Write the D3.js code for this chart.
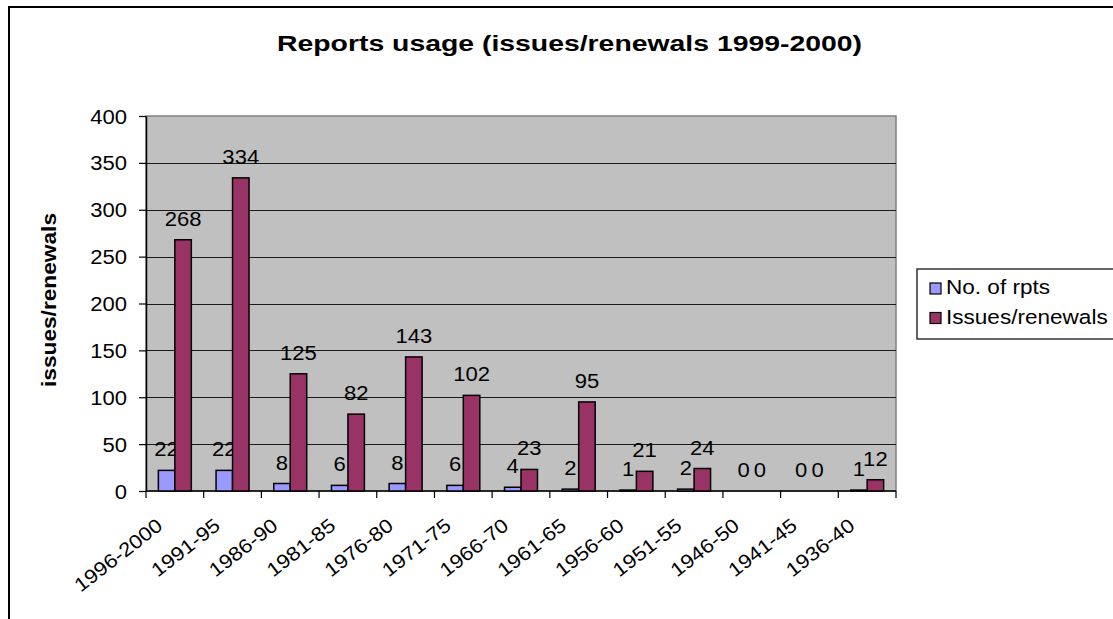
<!DOCTYPE html>
<html>
<head>
<meta charset="utf-8">
<script src="https://cdn.jsdelivr.net/npm/d3@7"></script>
<style>
  html, body { margin: 0; padding: 0; background: #fff; }
  svg { display: block; font-family: "Liberation Sans", Arial, sans-serif; }
</style>
</head>
<body>
<svg id="chart" width="1113" height="619"></svg>
<script>
// Publication periods (x axis)
const categories = ["1996-2000", "1991-95", "1986-90", "1981-85", "1976-80", "1971-75",
                    "1966-70", "1961-65", "1956-60", "1951-55", "1946-50", "1941-45", "1936-40"];
// Number of reports per period
const reportCounts = [22, 22, 8, 6, 8, 6, 4, 2, 1, 2, 0, 0, 1];
// Issues/renewals per period
const issueCounts = [268, 334, 125, 82, 143, 102, 23, 95, 21, 24, 0, 0, 12];
const seriesNames = ["No. of rpts", "Issues/renewals"];
const seriesColors = ["#9999FF", "#993366"];
const yTicks = [0, 50, 100, 150, 200, 250, 300, 350, 400];
const chartTitle = "Reports usage (issues/renewals 1999-2000)";
const yTitle = "issues/renewals";

const series = [reportCounts, issueCounts].map((vals, i) => ({
  name: seriesNames[i], color: seriesColors[i],
  values: vals.map((v, j) => ({ cat: categories[j], value: v }))
}));

const svg = d3.select("#chart");
const plot = { left: 146, right: 896, top: 116, bottom: 491 };

// Glyphs in this chart run slightly wider than the stock face; stretch along the baseline.
function widen(sel, k) {
  sel.each(function () {
    const w = this.getComputedTextLength();
    if (w > 0) {
      this.setAttribute("textLength", (w * k).toFixed(2));
      this.setAttribute("lengthAdjust", "spacingAndGlyphs");
    }
  });
}

// Outer chart frame
svg.append("rect")
  .attr("x", 9).attr("y", 7).attr("width", 1300).attr("height", 800)
  .attr("fill", "none").attr("stroke", "#000").attr("stroke-width", 2);

const x = d3.scaleBand().domain(categories).range([plot.left, plot.right]).paddingInner(0).paddingOuter(0);
const y = d3.scaleLinear().domain([0, 400]).range([plot.bottom, plot.top]);
const barW = x.bandwidth() / 3.5;
const inner = d3.scaleBand().domain(seriesNames)
  .range([(x.bandwidth() - 2 * barW) / 2, (x.bandwidth() + 2 * barW) / 2]);

// Plot background
svg.append("rect")
  .attr("x", plot.left).attr("y", plot.top)
  .attr("width", plot.right - plot.left).attr("height", plot.bottom - plot.top)
  .attr("fill", "#C0C0C0").attr("stroke", "#808080").attr("stroke-width", 1.5);

// Gridlines
svg.append("g")
  .selectAll("line").data(yTicks.filter(t => t > 0 && t < 400)).join("line")
  .attr("x1", plot.left).attr("x2", plot.right)
  .attr("y1", d => Math.round(y(d)) + 0.5).attr("y2", d => Math.round(y(d)) + 0.5)
  .attr("stroke", "#1a1a1a").attr("stroke-width", 1);

// Y axis
const yAxis = svg.append("g")
  .attr("transform", `translate(${plot.left},0)`)
  .call(d3.axisLeft(y).tickValues(yTicks).tickSize(7).tickPadding(12).tickSizeOuter(0));
yAxis.select(".domain").attr("stroke", "#000").attr("stroke-width", 1.5);
yAxis.selectAll(".tick line").attr("stroke", "#000").attr("stroke-width", 1.2);
yAxis.selectAll(".tick text")
  .attr("font-size", "19.5px").attr("fill", "#000")
  .attr("font-family", "Liberation Sans, Arial, sans-serif")
  .attr("dy", "0.36em")
  .call(widen, 1.13);

// X axis: ticks at category boundaries
const xAxisG = svg.append("g");
xAxisG.append("line")
  .attr("x1", plot.left).attr("x2", plot.right)
  .attr("y1", plot.bottom).attr("y2", plot.bottom)
  .attr("stroke", "#000").attr("stroke-width", 1.5);
const boundaries = categories.map(c => x(c)).concat([x(categories[categories.length - 1]) + x.bandwidth()]);
xAxisG.selectAll("line.tick").data(boundaries).join("line")
  .attr("class", "tick")
  .attr("x1", d => d).attr("x2", d => d)
  .attr("y1", plot.bottom).attr("y2", plot.bottom + 7)
  .attr("stroke", "#000").attr("stroke-width", 1.2);
xAxisG.selectAll("text").data(categories).join("text")
  .attr("transform", d => `translate(${x(d) + x.bandwidth() / 2 - 11},${plot.bottom + 37}) rotate(-38)`)
  .attr("text-anchor", "end")
  .attr("font-size", "19.5px").attr("fill", "#000")
  .text(d => d)
  .call(widen, 1.13);

// Bars
const groups = svg.append("g").selectAll("g").data(series).join("g")
  .attr("fill", d => d.color);
groups.selectAll("rect").data(d => d.values.map(v => ({ ...v, name: d.name }))).join("rect")
  .attr("x", d => x(d.cat) + inner(d.name))
  .attr("y", d => y(d.value))
  .attr("width", inner.bandwidth())
  .attr("height", d => y(0) - y(d.value))
  .attr("stroke", "#000").attr("stroke-width", 1.5);

// Value labels above bars
groups.selectAll("text").data(d => d.values.map(v => ({ ...v, name: d.name }))).join("text")
  .attr("x", d => x(d.cat) + inner(d.name) + inner.bandwidth() / 2)
  .attr("y", d => y(d.value) - 14)
  .attr("text-anchor", "middle")
  .attr("font-size", "19.5px").attr("fill", "#000")
  .text(d => d.value)
  .call(widen, 1.13);

// Title
svg.append("text")
  .attr("x", 277).attr("y", 51)
  .attr("font-size", "22px").attr("font-weight", "bold").attr("fill", "#000")
  .attr("textLength", 585).attr("lengthAdjust", "spacingAndGlyphs")
  .text(chartTitle);

// Y axis title
svg.append("text")
  .attr("transform", "translate(55.5,300) rotate(-90)")
  .attr("text-anchor", "middle")
  .attr("font-size", "20px").attr("font-weight", "bold").attr("fill", "#000")
  .attr("textLength", 174).attr("lengthAdjust", "spacingAndGlyphs")
  .text(yTitle);

// Legend
const legend = svg.append("g");
legend.append("rect")
  .attr("x", 917).attr("y", 269).attr("width", 260).attr("height", 70)
  .attr("fill", "#fff").attr("stroke", "#000").attr("stroke-width", 1.2);
const items = legend.selectAll("g.item").data(series).join("g")
  .attr("class", "item")
  .attr("transform", (d, i) => `translate(930,${283 + i * 29.5})`);
items.append("rect")
  .attr("width", 11).attr("height", 11)
  .attr("fill", d => d.color).attr("stroke", "#000").attr("stroke-width", 1.2);
items.append("text")
  .attr("x", 16).attr("y", 11)
  .attr("font-size", "20.5px").attr("fill", "#000")
  .text(d => d.name)
  .call(widen, 1.1);
</script>
</body>
</html>
